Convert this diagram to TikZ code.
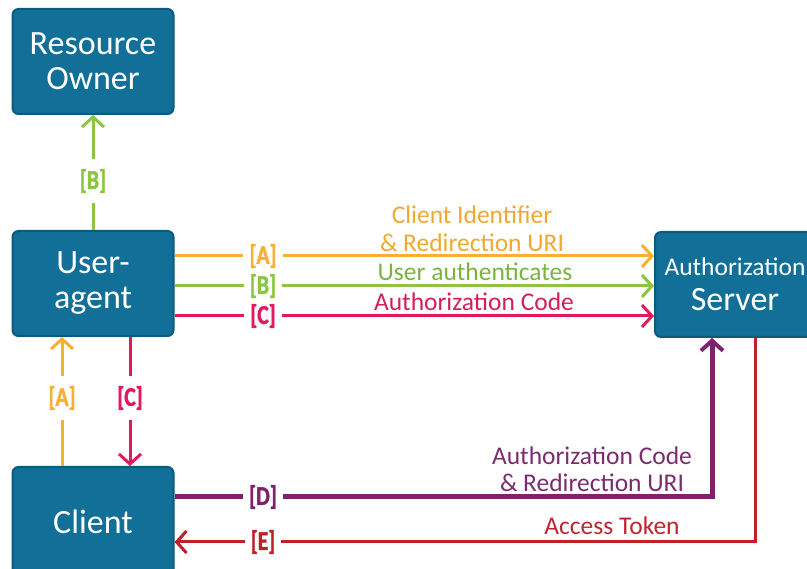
\documentclass[tikz,border=0pt]{standalone}
\usepackage{fontspec}
\setmainfont{Carlito}
\newfontfamily\brkfont[FakeStretch=0.8, FakeBold=1.6]{Carlito}
\usetikzlibrary{arrows.meta}

\definecolor{boxblue}{HTML}{116F98}
\definecolor{boxedge}{HTML}{0C5A7E}
\definecolor{cA}{HTML}{F6B134}
\definecolor{cB}{HTML}{8CC540}
\definecolor{cC}{HTML}{E2195F}
\definecolor{cD}{HTML}{7D236E}
\definecolor{cE}{HTML}{C0202B}
\definecolor{tA}{HTML}{F0A830}
\definecolor{tB}{HTML}{7AB43F}
\definecolor{tC}{HTML}{D41E5A}
\definecolor{tD}{HTML}{7B2C6E}
\definecolor{tE}{HTML}{BE2530}

\tikzset{
  party/.style={draw=boxedge, line width=2pt, fill=boxblue, rounded corners=6pt,
    text=white, align=center, minimum width=161pt, minimum height=105pt, inner sep=0pt,
    font=\fontsize{34}{35}\selectfont},
  flow/.style={line width=3pt, -{Straight Barb[length=10pt,width=22pt,line width=3pt]}},
  brk/.style={fill=white, inner xsep=6pt, inner ysep=0pt,
    font=\brkfont\bfseries\fontsize{27}{27}\selectfont},
  vbrk/.style={brk, inner xsep=2pt, inner ysep=10pt},
  msg/.style={align=center, inner sep=0pt, font=\fontsize{25.5}{27.5}\selectfont}
}

\begin{document}
\begin{tikzpicture}[x=1pt,y=-1pt]
\useasboundingbox (0,0) rectangle (807,569);
\clip (0,0) rectangle (807,569);

% the four parties
\node[party] (ro) at (93,61.5) {Resource\\Owner};
\node[party] (ua) at (93,283.5) {User-\\agent};
\node[party, minimum height=110pt] (cl) at (93,522) {Client};
\node[party, minimum width=160pt] (as) at (735,284.5)
  {{\fontsize{25.5}{31}\selectfont Authorization}\\Server};

% user-agent to authorization server
\draw[flow, cA] ([yshift=27.5pt]ua.east) -- ([yshift=27.5pt]ua.east -| as.west);
\draw[flow, cB] ([yshift=-2.5pt]ua.east) -- ([yshift=-2.5pt]ua.east -| as.west);
\draw[flow, cC] ([yshift=-32.5pt]ua.east) -- ([yshift=-32.5pt]ua.east -| as.west);

% user-agent to resource owner
\draw[flow, cB] (ua.north) -- (ro.south);

% client and user-agent
\draw[flow, cA] ([xshift=-31pt]cl.north) -- ([xshift=-31pt]cl.north |- ua.south);
\draw[flow, cC] ([xshift=37pt]ua.south) -- ([xshift=37pt]ua.south |- cl.north);

% client and authorization server
\draw[cD, line width=5pt, -{Straight Barb[length=10pt,width=22pt,line width=4pt]}]
  ([yshift=25pt]cl.east) -| ([xshift=-23pt]as.south);
\draw[flow, cE] ([xshift=20pt]as.south) |- ([yshift=-20pt]cl.east);

% step labels
\node[brk, text=cA] at (263,256) {[A]};
\node[brk, text=cB] at (263,286) {[B]};
\node[brk, text=cC] at (263,316) {[C]};
\node[vbrk, text=cB] at (93,181) {[B]};
\node[vbrk, text=cA] at (62,398) {[A]};
\node[vbrk, text=cC] at (130,398) {[C]};
\node[brk, text=cD] at (263,497) {[D]};
\node[brk, text=cE] at (263,542) {[E]};

% message texts
\node[msg, text=tA] at (472,228.5) {Client Identifier\\\& Redirection URI};
\node[msg, text=tB] at (475,272) {User authenticates};
\node[msg, text=tC] at (474,302) {Authorization Code};
\node[msg, text=tD] at (592,469) {Authorization Code\\\& Redirection URI};
\node[msg, text=tE] at (612,526) {Access Token};
\end{tikzpicture}
\end{document}
